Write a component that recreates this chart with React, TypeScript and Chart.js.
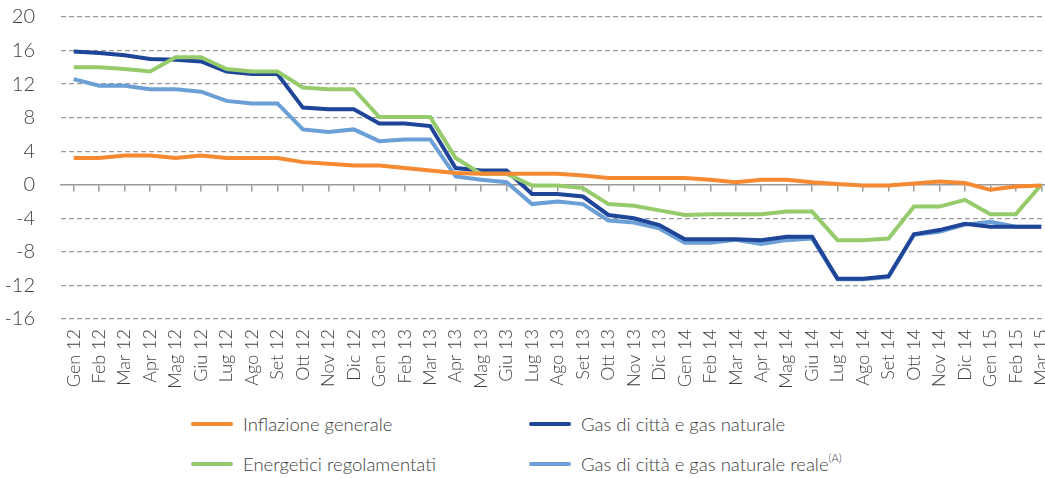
import React, { useEffect, useRef } from "react";
import { Chart, registerables } from "chart.js";

Chart.register(...registerables);

const months: string[] = [
  "Gen 12", "Feb 12", "Mar 12", "Apr 12", "Mag 12", "Giu 12", "Lug 12", "Ago 12", "Set 12", "Ott 12", "Nov 12", "Dic 12",
  "Gen 13", "Feb 13", "Mar 13", "Apr 13", "Mag 13", "Giu 13", "Lug 13", "Ago 13", "Set 13", "Ott 13", "Nov 13", "Dic 13",
  "Gen 14", "Feb 14", "Mar 14", "Apr 14", "Mag 14", "Giu 14", "Lug 14", "Ago 14", "Set 14", "Ott 14", "Nov 14", "Dic 14",
  "Gen 15", "Feb 15", "Mar 15",
];

const inflazioneGenerale: number[] = [
  3.2, 3.2, 3.5, 3.5, 3.2, 3.5, 3.2, 3.2, 3.2, 2.7, 2.5, 2.3,
  2.3, 2.0, 1.7, 1.4, 1.3, 1.3, 1.3, 1.3, 1.1, 0.8, 0.8, 0.8,
  0.8, 0.6, 0.3, 0.6, 0.6, 0.3, 0.1, -0.1, -0.1, 0.15, 0.4, 0.2,
  -0.6, -0.2, -0.1,
];

const gasNaturale: number[] = [
  15.9, 15.7, 15.45, 15.0, 14.9, 14.7, 13.5, 13.2, 13.2, 9.2, 9.0, 9.0,
  7.3, 7.3, 7.0, 2.0, 1.7, 1.7, -1.1, -1.1, -1.4, -3.6, -4.0, -4.8,
  -6.5, -6.5, -6.5, -6.6, -6.2, -6.2, -11.2, -11.2, -10.9, -5.9, -5.4, -4.65,
  -5.0, -5.0, -5.0,
];

const energeticiRegolamentati: number[] = [
  14.0, 14.0, 13.8, 13.5, 15.2, 15.2, 13.8, 13.5, 13.5, 11.6, 11.4, 11.4,
  8.07, 8.07, 8.07, 3.2, 1.3, 1.3, -0.1, -0.1, -0.4, -2.3, -2.5, -3.05,
  -3.6, -3.5, -3.5, -3.5, -3.2, -3.2, -6.6, -6.6, -6.4, -2.6, -2.6, -1.8,
  -3.5, -3.5, 0.0,
];

const gasNaturaleReale: number[] = [
  12.6, 11.8, 11.8, 11.4, 11.4, 11.1, 10.0, 9.7, 9.7, 6.6, 6.3, 6.6,
  5.2, 5.4, 5.4, 1.0, 0.6, 0.3, -2.3, -2.0, -2.3, -4.25, -4.5, -5.2,
  -6.9, -6.9, -6.55, -7.05, -6.6, -6.4, -11.25, -11.25, -11.0, -5.95, -5.6, -4.75,
  -4.4, -5.0, -5.0,
];

const yTicks: number[] = [20, 16, 12, 8, 4, 0, -4, -8, -12, -16];

const ORANGE = "#F58A33";
const DARK_BLUE = "#1F4598";
const GREEN = "#96CB6C";
const LIGHT_BLUE = "#6B9FD6";
const GRID = "#9a9a9a";
const TEXT = "#404040";
const FONT = "Lato, 'Open Sans', sans-serif";

const legendItems = [
  { color: ORANGE, label: "Inflazione generale", sup: "" },
  { color: DARK_BLUE, label: "Gas di città e gas naturale", sup: "" },
  { color: GREEN, label: "Energetici regolamentati", sup: "" },
  { color: LIGHT_BLUE, label: "Gas di città e gas naturale reale", sup: "(A)" },
];

export default function App() {
  const canvasRef = useRef<HTMLCanvasElement | null>(null);

  useEffect(() => {
    if (!canvasRef.current) return;
    const line = (label: string, data: number[], color: string) => ({
      label,
      data,
      borderColor: color,
      backgroundColor: color,
      borderWidth: 4,
      pointRadius: 0,
      tension: 0,
      fill: false,
      xAxisID: "x",
      yAxisID: "y",
    });

    const chart = new Chart(canvasRef.current, {
      type: "line",
      data: {
        labels: months,
        datasets: [
          line("Inflazione generale", inflazioneGenerale, ORANGE),
          line("Energetici regolamentati", energeticiRegolamentati, GREEN),
          line("Gas di città e gas naturale", gasNaturale, DARK_BLUE),
          line("Gas di città e gas naturale reale", gasNaturaleReale, LIGHT_BLUE),
        ],
      },
      options: {
        responsive: false,
        animation: false,
        layout: { padding: { top: 17, left: 0, right: 0, bottom: 0 } },
        plugins: {
          legend: { display: false },
          tooltip: { enabled: false },
        },
        scales: {
          x: {
            type: "category",
            position: "bottom",
            offset: true,
            grid: { display: false, drawTicks: false },
            border: { display: false },
            ticks: {
              minRotation: 90,
              maxRotation: 90,
              autoSkip: false,
              padding: 10,
              color: TEXT,
              font: { family: FONT, size: 18, weight: 300 as any },
            },
            afterFit: (scale: any) => {
              scale.height = 81;
              scale.paddingLeft = 0;
              scale.paddingRight = 0;
            },
          },
          x0: {
            type: "category",
            position: { y: 0 } as any,
            offset: true,
            grid: {
              display: true,
              drawOnChartArea: false,
              drawTicks: true,
              tickLength: 6,
              color: GRID,
              lineWidth: 1.5,
            },
            border: { display: true, color: GRID, width: 1.5 },
            ticks: { display: false },
            afterFit: (scale: any) => {
              scale.paddingLeft = 0;
              scale.paddingRight = 0;
            },
          },
          y: {
            min: -16,
            max: 20,
            afterBuildTicks: (scale: any) => {
              scale.ticks = yTicks.map((v) => ({ value: v }));
            },
            grid: {
              drawTicks: false,
              lineWidth: 1.3,
              color: (ctx: any) => (ctx.tick && ctx.tick.value === 0 ? "rgba(0,0,0,0)" : GRID),
            },
            border: { display: false, dash: [5, 3] },
            ticks: {
              padding: 26,
              color: TEXT,
              font: { family: FONT, size: 20, weight: 300 as any },
            },
            afterFit: (scale: any) => {
              scale.width = 61;
              scale.paddingTop = 0;
              scale.paddingBottom = 0;
            },
          },
        },
      },
    });
    return () => chart.destroy();
  }, []);

  return (
    <div
      style={{
        position: "absolute",
        left: 0,
        top: 0,
        width: 1045,
        height: 478,
        overflow: "hidden",
        background: "#fff",
        fontFamily: FONT,
      }}
    >
      <canvas ref={canvasRef} width={1054} height={400} style={{ display: "block" }} />
      <div
        style={{
          position: "absolute",
          left: 191,
          top: 408,
          display: "grid",
          gridTemplateColumns: "338px 400px",
          rowGap: 8,
        }}
      >
        {legendItems.map((item) => (
          <div
            key={item.label}
            style={{ display: "flex", alignItems: "center", height: 32, color: TEXT, fontSize: 18.5, fontWeight: 300 }}
          >
            <span style={{ display: "inline-block", width: 42, height: 4, background: item.color, marginRight: 10, borderRadius: 2 }} />
            <span style={{ whiteSpace: "nowrap" }}>
              {item.label}
              {item.sup ? <sup style={{ fontSize: 11, verticalAlign: "top", position: "relative", top: -2 }}>{item.sup}</sup> : null}
            </span>
          </div>
        ))}
      </div>
    </div>
  );
}
